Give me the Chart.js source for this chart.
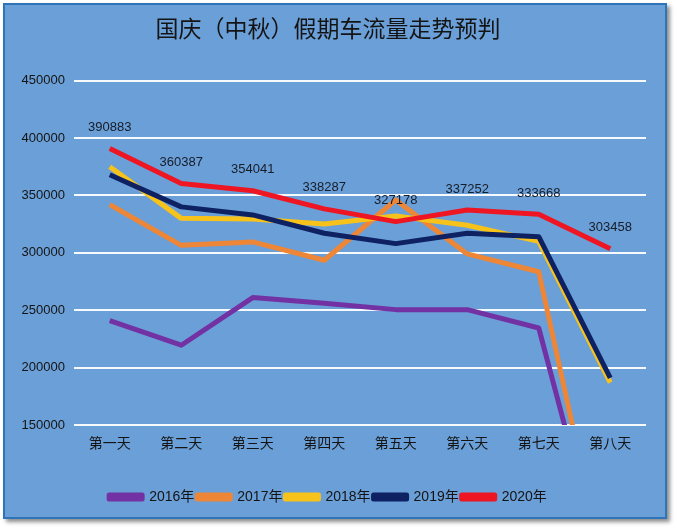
<!DOCTYPE html>
<html>
<head>
<meta charset="utf-8">
<script src="https://cdn.jsdelivr.net/npm/chart.js@4/dist/chart.umd.min.js"></script>
<style>
  html, body { margin: 0; padding: 0; background: #ffffff; }
  #box {
    position: absolute; left: 3px; top: 3px; width: 660px; height: 512px;
    border: 2px solid #2f73b8;
    background: #6b9fd7;
    box-shadow: 3px 3px 4px rgba(0,0,0,0.45);
  }
  #c { display: block; }
</style>
</head>
<body>
<div id="box"><canvas id="c" width="660" height="512"></canvas></div>
<script>
const categories = ['第一天','第二天','第三天','第四天','第五天','第六天','第七天','第八天'];
const seriesNames = ['2016年','2017年','2018年','2019年','2020年'];
const v2016 = [241000, 219500, 261000, 256000, 250500, 250500, 234500, 0];
const v2017 = [342000, 306500, 309500, 293500, 346000, 299000, 283500, 0];
const v2018 = [375000, 330000, 329500, 325000, 332000, 324000, 310000, 187000];
const v2019 = [368000, 340000, 333000, 317000, 308000, 317000, 314000, 191000];
const v2020 = [390883, 360387, 354041, 338287, 327178, 337252, 333668, 303458];
const yTicks = [150000, 200000, 250000, 300000, 350000, 400000, 450000];
const colors = ['#7232a3', '#ee8638', '#f7c31a', '#0d2163', '#ee1622'];

const allValues = [v2016, v2017, v2018, v2019, v2020];

const labelPlugin = {
  id: 'valueLabels',
  afterDatasetsDraw(chart) {
    const ctx = chart.ctx;
    const meta = chart.getDatasetMeta(4);
    ctx.save();
    ctx.font = '13px "Liberation Sans", "Noto Sans CJK SC", sans-serif';
    ctx.fillStyle = '#161c28';
    ctx.textAlign = 'center';
    ctx.textBaseline = 'middle';
    meta.data.forEach((pt, i) => {
      ctx.fillText(String(v2020[i]), pt.x, pt.y - 21);
    });
    ctx.restore();
  }
};

new Chart(document.getElementById('c'), {
  type: 'line',
  data: {
    labels: categories,
    datasets: allValues.map((vals, i) => ({
      label: seriesNames[i],
      data: vals,
      borderColor: colors[i],
      backgroundColor: colors[i],
      borderWidth: 5,
      pointRadius: 0,
      tension: 0,
      borderJoinStyle: 'round',
      borderCapStyle: 'butt',
      order: 5 - i
    }))
  },
  options: {
    responsive: false,
    animation: false,
    layout: { padding: { left: 5, right: 19, top: 0, bottom: 3 } },
    plugins: {
      title: {
        display: true,
        text: '国庆（中秋）假期车流量走势预判',
        color: '#141414',
        font: { family: '"Noto Sans CJK SC", sans-serif', size: 23, weight: 'normal' },
        padding: { top: 9, bottom: 39 }
      },
      legend: {
        position: 'bottom',
        labels: {
          boxWidth: 33,
          boxHeight: 4,
          padding: 3,
          color: '#141414',
          font: { family: '"Liberation Sans", "Noto Sans CJK SC", sans-serif', size: 14 },
          sort: (a, b) => a.datasetIndex - b.datasetIndex
        }
      },
      tooltip: { enabled: false }
    },
    scales: {
      x: {
        offset: true,
        grid: { display: false, drawTicks: false },
        border: { display: false },
        ticks: {
          color: '#141414',
          padding: 9,
          font: { family: '"Noto Sans CJK SC", sans-serif', size: 14 }
        },
        afterFit(scale) { scale.height = 62; }
      },
      y: {
        min: 150000,
        max: 450000,
        afterBuildTicks(scale) { scale.ticks = yTicks.map(v => ({ value: v })); },
        grid: { color: 'rgba(255,255,255,0.95)', lineWidth: 2, drawTicks: false },
        border: { display: false },
        ticks: {
          color: '#141414',
          padding: 9,
          font: { family: '"Liberation Sans", sans-serif', size: 13 },
          callback: (v) => String(v)
        },
        afterFit(scale) { scale.width = 64; }
      }
    }
  },
  plugins: [labelPlugin]
});
</script>
</body>
</html>
